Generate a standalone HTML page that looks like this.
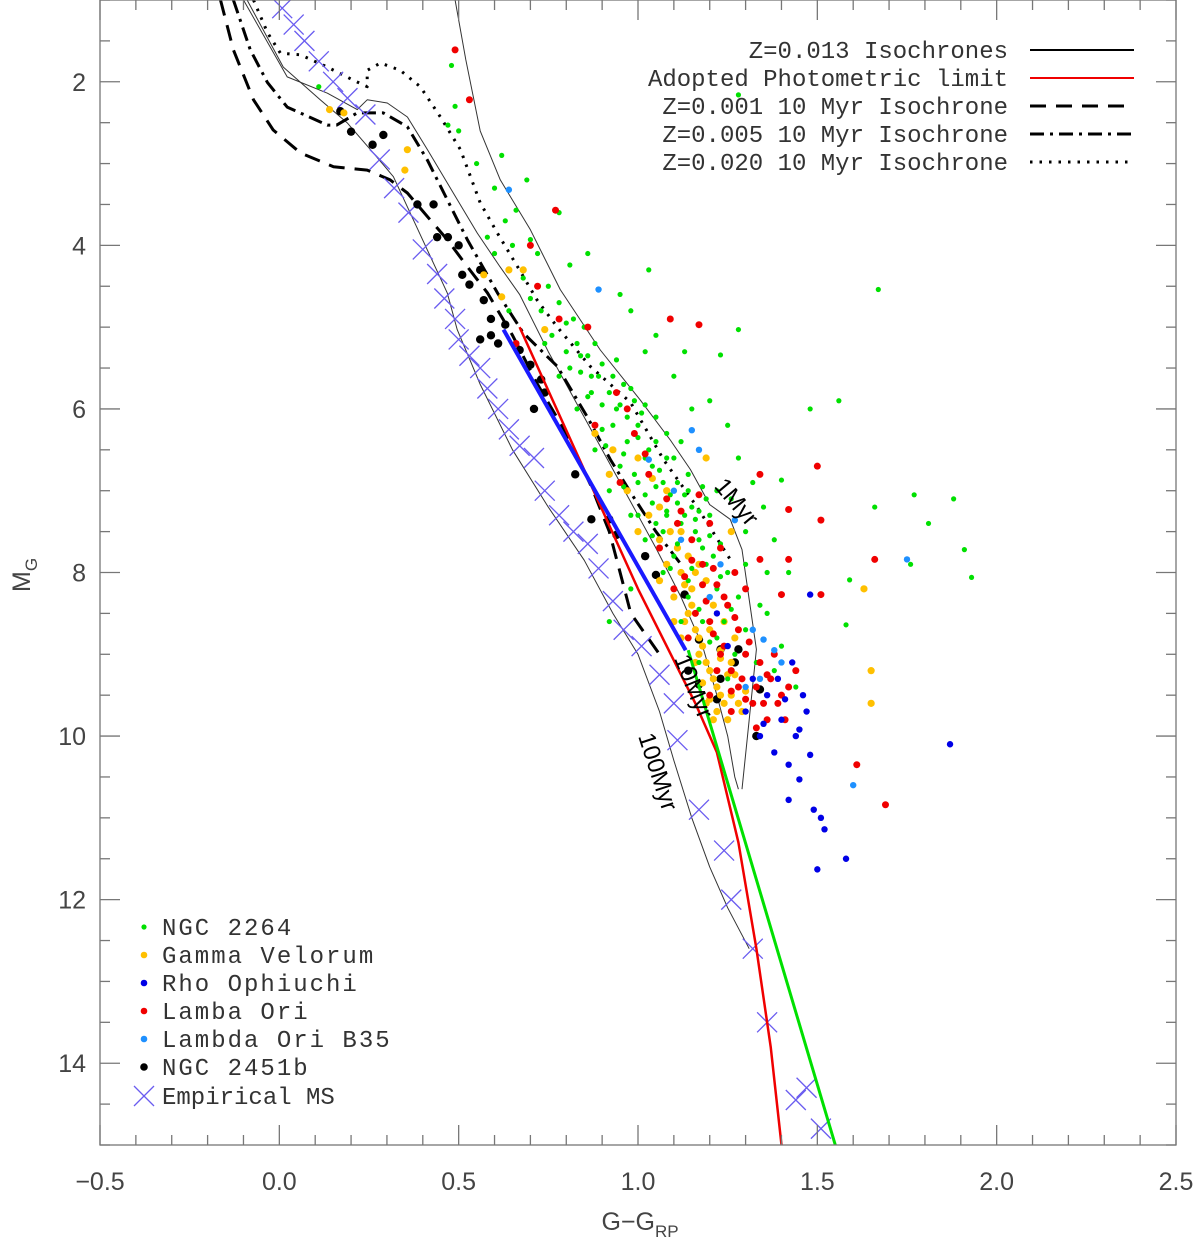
<!DOCTYPE html>
<html><head><meta charset="utf-8"><style>
html,body{margin:0;padding:0;background:#fff;width:1200px;height:1239px;overflow:hidden}
svg{display:block}
text{font-family:"Liberation Sans",sans-serif}
.mono{font-family:"Liberation Mono",monospace}
</style></head><body>
<svg id="chart" width="1200" height="1239" viewBox="0 0 1200 1239" xmlns="http://www.w3.org/2000/svg"></svg>
<script>
// ---- data (G-G_RP, M_G) ----
const xTicks=[-0.5,0.0,0.5,1.0,1.5,2.0,2.5];
const xTickLabels=["\u22120.5","0.0","0.5","1.0","1.5","2.0","2.5"];
const yTicks=[2,4,6,8,10,12,14];
const yTickLabels=["2","4","6","8","10","12","14"];
const iso1Myr=[0.49,1.0,0.52,1.73,0.56,2.6,0.616,3.2,0.70,3.81,0.783,4.54,0.895,5.28,1.006,5.89,1.09,6.38,1.146,6.74,1.2,7.17,1.257,7.35,1.29,7.72,1.31,8.33,1.33,8.94,1.31,9.8,1.29,10.65];
const iso10Myr=[-0.1,1.0,0.022,1.94,0.134,2.14,0.217,2.34,0.245,2.22,0.301,2.26,0.357,2.43,0.413,2.83,0.485,3.36,0.552,3.85,0.615,4.26,0.67,4.6,0.75,5.3,0.85,6.1,0.95,6.9,1.05,7.7,1.12,8.3,1.18,8.9,1.22,9.5,1.25,10.0,1.27,10.5,1.28,10.65];
const iso100Myr=[-0.09,1.0,0.011,1.82,0.114,2.22,0.189,2.5,0.262,2.87,0.318,3.16,0.357,3.53,0.413,4.06,0.468,4.58,0.496,5.03,0.56,5.7,0.65,6.5,0.75,7.2,0.85,7.85,0.93,8.5,1.0,9.0,1.06,9.7,1.1,10.3,1.15,11.0,1.2,11.6,1.25,12.1,1.31,12.6];
const isoZ001=[-0.164,1.0,-0.128,1.61,-0.072,2.22,-0.017,2.59,0.059,2.87,0.151,3.04,0.245,3.08,0.309,3.2,0.357,3.36,0.413,3.65,0.468,3.93,0.524,4.26,0.58,4.58,0.65,5.1,0.72,5.7,0.8,6.3,0.87,6.95,0.92,7.5,0.95,8.0,0.98,8.5,1.06,9.0];
const isoZ005=[-0.128,1.0,-0.081,1.61,-0.033,2.01,0.022,2.31,0.134,2.53,0.16,2.53,0.217,2.38,0.29,2.38,0.357,2.55,0.413,2.96,0.468,3.44,0.524,3.93,0.608,4.58,0.68,5.07,0.775,5.48,0.859,6.1,0.923,6.62,0.979,7.02,1.05,7.5,1.12,7.9];
const isoZ020=[-0.072,1.0,-0.033,1.4,0.003,1.65,0.059,1.67,0.134,1.82,0.206,1.98,0.245,2.06,0.245,1.86,0.282,1.77,0.337,1.86,0.393,2.06,0.449,2.43,0.505,2.83,0.56,3.48,0.608,3.85,0.664,4.26,0.719,4.67,0.775,5.0,0.867,5.48,0.979,5.92,1.071,6.62,1.165,7.2,1.257,7.84];
const redLimit=[0.67,5.0,1.0,8.2,1.16,9.6,1.22,10.2,1.28,11.3,1.33,12.6,1.37,13.8,1.40,15.0];
const greenLimit=[1.14,8.95,1.55,15.0];
const blueLimit=[0.625,5.03,1.133,8.95];
const empiricalMS=[0.008,1.1,0.04,1.3,0.07,1.5,0.11,1.75,0.15,2.0,0.19,2.2,0.24,2.4,0.28,2.95,0.32,3.3,0.36,3.6,0.40,4.05,0.44,4.35,0.46,4.65,0.49,4.9,0.5,5.15,0.53,5.35,0.56,5.5,0.58,5.75,0.61,6.0,0.64,6.25,0.67,6.45,0.71,6.6,0.74,7.0,0.78,7.3,0.82,7.5,0.86,7.65,0.89,7.95,0.93,8.35,0.96,8.7,1.01,8.9,1.06,9.25,1.10,9.6,1.11,10.05,1.17,10.9,1.24,11.4,1.26,12.0,1.32,12.6,1.36,13.5,1.44,14.45,1.47,14.3,1.51,14.8];
const ngc2264=[0.48,1.8,0.11,2.06,1.28,2.16,0.47,2.53,0.5,2.6,0.49,2.3,0.62,2.9,0.66,3.57,0.7,3.93,0.81,4.24,1.03,4.3,1.67,4.54,0.55,3.0,0.6,3.3,0.63,3.7,0.58,3.9,0.65,4.0,0.72,4.1,0.68,4.4,0.75,4.5,0.78,4.7,0.73,4.8,0.7,4.65,0.82,4.9,0.85,5.0,0.76,5.1,0.8,5.3,0.88,5.2,0.9,5.45,0.84,5.55,0.93,5.6,0.96,5.7,0.87,5.8,0.99,5.9,1.02,5.95,0.94,6.0,1.05,6.1,1.0,6.2,0.9,6.25,0.97,6.4,1.08,6.3,1.12,6.4,1.03,6.5,1.1,6.6,1.06,6.75,1.14,6.8,1.0,6.9,1.18,6.95,1.09,7.05,1.04,7.15,1.15,7.2,1.2,7.3,1.12,7.4,1.07,7.5,1.17,7.6,1.23,7.65,1.1,7.8,1.19,7.9,1.25,8.0,1.14,8.1,1.22,8.2,1.28,8.3,1.17,8.45,1.24,8.6,1.3,8.7,1.2,8.85,1.27,9.0,1.33,9.1,1.25,9.3,1.36,8.0,1.3,7.5,1.35,7.2,1.32,6.9,1.28,6.6,1.25,6.2,1.23,5.34,1.28,5.03,1.56,5.9,1.48,6.0,1.4,6.87,1.77,7.05,1.66,7.2,1.81,7.4,1.88,7.1,1.91,7.72,1.76,7.9,1.59,8.09,1.93,8.06,1.58,8.64,0.98,4.8,1.02,5.3,1.1,5.6,1.15,6.0,1.2,5.9,0.95,6.7,0.92,7.0,0.98,7.3,1.02,7.6,1.07,8.0,1.12,8.6,1.17,9.1,1.38,7.6,1.42,8.0,1.36,8.5,1.4,8.9,1.05,6.95,1.08,7.3,1.13,7.05,1.16,7.5,1.19,7.1,1.22,7.0,1.26,7.1,1.3,7.9,1.34,8.4,0.78,5.6,0.83,6.0,0.88,6.5,0.74,5.2,0.69,3.2,0.78,3.6,0.86,4.1,0.95,4.6,1.05,5.1,1.13,5.3,0.6,4.1,0.64,4.8,1.38,9.2,1.44,9.4,0.92,8.6,0.98,8.2,
0.8,4.95,0.83,5.2,0.86,5.35,0.89,5.6,0.92,5.8,0.95,5.95,0.97,6.1,1.0,6.35,1.02,6.6,1.04,6.7,1.07,6.9,1.11,7.15,1.13,7.3,1.16,7.35,1.18,7.7,1.21,7.8,1.15,7.95,1.11,7.65,1.08,7.25,1.05,7.4,1.02,7.05,0.99,6.8,0.96,6.55,0.93,6.2,0.9,5.95,0.87,5.6,0.84,5.35,0.81,5.5,0.86,5.85,0.91,6.45,0.96,6.95,1.0,7.3,1.04,7.55,1.09,7.95,1.14,8.3,1.18,8.6,1.22,8.8,1.26,8.45,1.23,8.05,1.2,7.55,1.17,7.25,1.14,7.0,1.11,6.9,1.08,6.6,1.05,6.4,1.01,6.05,0.98,5.75,0.94,5.4];
const gammaVel=[0.14,2.34,0.18,2.38,0.357,2.83,0.35,3.08,1.63,8.2,1.65,9.2,1.65,9.6,0.57,4.36,0.64,4.3,0.68,4.3,0.62,4.63,0.74,5.03,0.88,6.3,0.93,6.5,1.0,6.6,0.92,6.8,0.97,7.0,1.03,7.3,1.0,7.5,1.06,7.6,1.08,7.9,1.12,8.0,1.1,8.3,1.14,8.5,1.16,8.7,1.12,8.8,1.18,8.9,1.16,9.1,1.2,9.2,1.18,9.35,1.22,9.4,1.2,9.55,1.24,9.6,1.26,9.5,1.22,9.7,1.25,9.8,1.17,9.0,1.13,8.6,1.06,7.2,1.09,7.5,1.14,7.8,1.19,8.1,1.21,8.4,1.24,8.6,1.27,8.8,1.23,9.05,1.27,9.25,1.3,9.45,1.15,8.2,1.19,6.6,1.26,7.5,1.06,8.1,1.1,8.6,
1.11,7.7,1.13,8.15,1.15,8.4,1.17,8.8,1.19,9.1,1.21,9.3,1.23,9.5,1.25,9.25,1.19,9.6,1.21,9.8,1.28,9.6,1.16,8.0,1.12,7.5,1.08,7.0,1.04,6.85,1.17,7.9,1.2,8.7,1.23,8.95,1.26,9.1,1.29,9.7];
const rhoOph=[1.87,10.1,1.48,8.27,1.42,10.35,1.45,10.53,1.42,10.78,1.49,10.9,1.52,11.14,1.5,11.63,1.58,11.5,1.48,10.23,1.4,9.8,1.45,9.92,1.51,11.0,1.34,10.0,1.41,9.55,1.43,9.1,1.46,9.5,1.3,9.7,1.36,9.5,1.25,8.9,1.38,10.2,1.32,9.3,1.22,8.5,1.47,9.7,1.39,9.3,1.35,9.85,1.44,10.0];
const lambaOri=[0.49,1.61,0.53,2.22,0.77,3.57,1.17,4.97,1.09,4.9,1.34,6.8,1.5,6.7,1.42,7.23,1.51,7.36,1.34,7.84,1.42,7.84,1.66,7.84,1.51,8.27,1.61,10.35,1.69,10.84,1.4,8.27,0.7,4.0,0.72,4.5,0.78,4.9,0.66,5.2,0.86,5.0,0.94,5.8,0.88,6.2,0.99,6.3,1.03,6.8,0.95,6.9,1.08,7.1,1.12,7.25,1.15,7.6,1.2,7.4,1.18,7.9,1.13,8.05,1.22,8.15,1.25,8.4,1.2,8.6,1.16,8.5,1.28,8.7,1.24,8.9,1.3,9.0,1.22,9.2,1.34,9.1,1.37,9.3,1.28,9.4,1.32,9.6,1.38,9.0,1.26,9.7,1.36,9.8,1.2,9.5,1.1,8.2,1.06,7.7,1.14,8.8,1.3,8.2,1.27,8.0,1.4,9.5,1.44,9.2,1.33,9.9,1.41,9.8,1.19,8.35,1.23,7.7,1.17,7.05,0.97,6.0,1.02,6.55,1.11,7.4,
1.21,8.75,1.23,9.0,1.26,9.2,1.29,9.3,1.31,8.85,1.33,9.4,1.35,9.6,1.27,8.55,1.24,8.3,1.18,8.15,1.15,7.85,1.21,7.95,1.26,9.45,1.3,9.55,1.36,9.25,1.39,9.6,1.42,9.4];
const lambdaB35=[0.64,3.32,0.89,4.54,1.75,7.84,1.6,10.6,1.17,6.5,1.32,8.7,1.34,9.3,1.15,6.26,1.27,7.36,1.35,8.82,1.38,8.95,1.23,7.9,1.03,6.62,1.12,7.6,1.3,9.4,1.1,7.0,1.2,8.3,1.4,9.1];
const ngc2451b=[0.17,2.36,0.2,2.61,0.29,2.65,0.26,2.77,0.385,3.5,0.43,3.5,0.44,3.9,0.47,3.9,0.5,4.0,0.56,4.3,0.51,4.36,0.53,4.48,0.57,4.67,0.59,4.9,0.63,4.97,0.61,5.2,0.67,5.28,0.7,5.46,0.73,5.64,0.74,5.8,0.71,6.0,0.825,6.8,0.87,7.35,0.92,7.35,0.94,7.54,1.02,7.8,1.05,8.03,1.13,8.27,1.17,8.82,1.23,8.94,1.28,8.94,1.23,9.3,1.22,9.55,1.33,10.0,1.27,9.1,1.34,9.43,1.14,9.2,1.17,9.37,0.56,5.15,0.59,5.1];

const NS="http://www.w3.org/2000/svg";
const svg=document.getElementById('chart');
const L=100,R=1176,T=0,B=1145,X0=-0.5,X1=2.5,Y0=1,Y1=15;
const sx=v=>L+(v-X0)/(X1-X0)*(R-L);
const sy=v=>T+(v-Y0)/(Y1-Y0)*(B-T);
function mk(tag,attrs,parent){const e=document.createElementNS(NS,tag);for(const k in attrs)e.setAttribute(k,attrs[k]);(parent||svg).appendChild(e);return e;}

const defs=mk('defs',{});
const cp=mk('clipPath',{id:'plotclip'},defs);
mk('rect',{x:L,y:T,width:R-L,height:B-T},cp);
const plot=mk('g',{'clip-path':'url(#plotclip)'});



function pathFrom(arr){let d='';for(let i=0;i<arr.length;i+=2)d+=(i?'L':'M')+sx(arr[i]).toFixed(1)+','+sy(arr[i+1]).toFixed(1);return d;}
function line(arr,name,stroke,w,dash){const p=mk('path',{d:pathFrom(arr),fill:'none',stroke:stroke,'stroke-width':w,'stroke-linejoin':'round'},plot);if(dash)p.setAttribute('stroke-dasharray',dash);


return p;}

line(iso1Myr,'isochrone-1myr','#333',1);
line(iso10Myr,'isochrone-10myr','#333',1);
line(iso100Myr,'isochrone-100myr','#333',1);
line(isoZ001,'isochrone-z0001','#000',3,'16,10');
line(isoZ005,'isochrone-z0005','#000',3,'14,6,3,6');
line(isoZ020,'isochrone-z0020','#000',3,'2.5,7');

const cg=mk('g',{},plot);


for(let i=0;i<empiricalMS.length;i+=2){const x=sx(empiricalMS[i]),y=sy(empiricalMS[i+1]),s=10;
const c=mk('path',{d:`M${x-s},${y-s}L${x+s},${y+s}M${x-s},${y+s}L${x+s},${y-s}`,stroke:'#6a5cf0','stroke-width':1.3,fill:'none'},cg);

}

function dots(arr,name,color,r){const g=mk('g',{},plot);


for(let i=0;i<arr.length;i+=2){const c=mk('circle',{cx:sx(arr[i]),cy:sy(arr[i+1]),r:r,fill:color},g);

}}
dots(ngc2451b,'ngc2451b','#000',4.2);
dots(gammaVel,'gamma-velorum','#ffc000',3.6);
dots(ngc2264,'ngc2264','#00e000',2.6);
dots(lambaOri,'lamba-ori','#f00000',3.5);
dots(rhoOph,'rho-ophiuchi','#0000e6',3.2);
dots(lambdaB35,'lambda-ori-b35','#1e90ff',3.2);

line(redLimit,'photometric-limit-red','#f00000',2.5);
line(greenLimit,'photometric-limit-green','#00e000',3);
line(blueLimit,'photometric-limit-blue','#1a1aff',4);

function rlabel(t,v,m,ang,name){const e=mk('text',{x:sx(v),y:sy(m),'font-size':24,fill:'#000',transform:`rotate(${ang} ${sx(v)} ${sy(m)})`,'font-family':'Liberation Serif, serif'},plot);e.textContent=t;

}
rlabel('1Myr',1.21,6.95,50,'label-1myr');
rlabel('10Myr',1.1,9.05,68,'label-10myr');
rlabel('100Myr',1.0,10.0,72,'label-100myr');

const ax=mk('g',{});


mk('rect',{x:L,y:T,width:R-L,height:B-T,fill:'none',stroke:'#777','stroke-width':1.3},ax);
for(let v=-0.5;v<=2.5001;v+=0.1){const x=sx(v);const maj=Math.abs(v*2-Math.round(v*2))<1e-6;const len=maj?20:10;
mk('line',{x1:x,y1:B,x2:x,y2:B-len,stroke:'#777','stroke-width':1.3},ax);mk('line',{x1:x,y1:T,x2:x,y2:T+len,stroke:'#777','stroke-width':1.3},ax);}
for(let v=1;v<=15.0001;v+=0.5){const y=sy(v);const maj=Math.abs(v/2-Math.round(v/2))<1e-6;const len=maj?20:10;
mk('line',{x1:L,y1:y,x2:L+len,y2:y,stroke:'#777','stroke-width':1.3},ax);mk('line',{x1:R,y1:y,x2:R-len,y2:y,stroke:'#777','stroke-width':1.3},ax);}
xTicks.forEach((v,i)=>{const t=mk('text',{x:sx(v),y:1190,'text-anchor':'middle','font-size':25,fill:'#444'},ax);t.textContent=xTickLabels[i];

});
yTicks.forEach((v,i)=>{const t=mk('text',{x:86,y:sy(v)+9,'text-anchor':'end','font-size':25,fill:'#444'},ax);t.textContent=yTickLabels[i];

});
</script>
<script>
(function(){
const NS="http://www.w3.org/2000/svg";const svg=document.getElementById('chart');
function mk(tag,attrs,parent){const e=document.createElementNS(NS,tag);for(const k in attrs)e.setAttribute(k,attrs[k]);(parent||svg).appendChild(e);return e;}
const xt=mk('text',{x:640,y:1230,'text-anchor':'middle','font-size':25,fill:'#444'});
xt.innerHTML='G\u2212G<tspan font-size="17" dy="7">RP</tspan>';


const yt=mk('text',{x:0,y:0,'font-size':25,fill:'#444',transform:'translate(30,592) rotate(-90)'});
yt.innerHTML='M<tspan font-size="17" dy="7">G</tspan>';


const lg=mk('g',{});


const items=[["Z=0.013 Isochrones","#000",2,null],["Adopted Photometric limit","#f00000",2,null],["Z=0.001 10 Myr Isochrone","#000",3,"16,10"],["Z=0.005 10 Myr Isochrone","#000",3,"14,6,3,6"],["Z=0.020 10 Myr Isochrone","#000",3,"2.5,7"]];
items.forEach((it,i)=>{const y=50+i*28;
const t=mk('text',{x:1008,y:y+8,'text-anchor':'end','font-size':24,fill:'#333','class':'mono'},lg);t.textContent=it[0];


const l=mk('line',{x1:1030,y1:y,x2:1134,y2:y,stroke:it[1],'stroke-width':it[2]},lg);if(it[3])l.setAttribute('stroke-dasharray',it[3]);

});
const lg2=mk('g',{});


const items2=[["NGC 2264","#00e000",2.6],["Gamma Velorum","#ffc000",3.3],["Rho Ophiuchi","#0000e6",3.3],["Lamba Ori","#f00000",3.3],["Lambda Ori B35","#1e90ff",3.3],["NGC 2451b","#000",3.8]];
items2.forEach((it,i)=>{const y=927+i*28;
const c=mk('circle',{cx:144,cy:y,r:it[2],fill:it[1]},lg2);


const t=mk('text',{x:162,y:y+8,'font-size':24,fill:'#333','class':'mono','letter-spacing':'2'},lg2);t.textContent=it[0];

});
const y=1096;
const cr=mk('path',{d:`M134,${y-10}L154,${y+10}M134,${y+10}L154,${y-10}`,stroke:'#6a5cf0','stroke-width':1.3,fill:'none'},lg2);


const t=mk('text',{x:162,y:y+8,'font-size':24,fill:'#333','class':'mono'},lg2);t.textContent="Empirical MS";


})();
</script>
</body></html>
